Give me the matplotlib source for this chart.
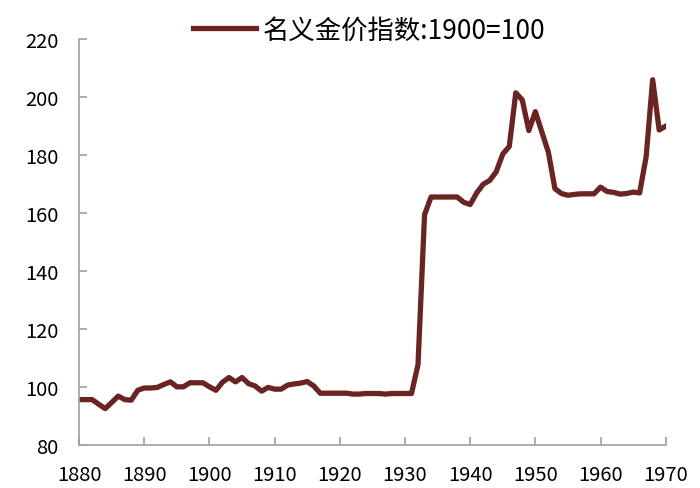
import numpy as np
import matplotlib.pyplot as plt

plt.rcParams['font.family'] = ['Noto Sans CJK SC', 'DejaVu Sans']

years = list(range(1880, 1971))
gold_index = [
    95.8, 95.8, 95.8, 94.2, 92.7, 94.8, 97.0, 95.8, 95.6, 99.0,  # 1880s
    99.8, 99.8, 100.0, 101.0, 101.9, 100.2, 100.2, 101.6, 101.6, 101.6,  # 1890s
    100.2, 99.0, 101.8, 103.4, 101.9, 103.4, 101.3, 100.5, 98.7, 100.0,  # 1900s
    99.4, 99.4, 100.8, 101.2, 101.5, 102.0, 100.5, 98.0, 98.0, 98.0,  # 1910s
    98.0, 98.0, 97.7, 97.7, 97.9, 97.9, 97.9, 97.7, 97.9, 97.9,  # 1920s
    97.9, 97.9, 107.9, 159.5, 165.6, 165.6, 165.6, 165.6, 165.6, 163.8,  # 1930s
    163.0, 167.0, 170.0, 171.3, 174.3, 180.4, 183.0, 201.5, 199.0, 188.5,  # 1940s
    195.0, 188.0, 181.0, 168.5, 166.8, 166.2, 166.5, 166.7, 166.7, 166.7,  # 1950s
    169.0, 167.5, 167.2, 166.6, 166.8, 167.3, 167.0, 179.5, 206.0, 188.7,  # 1960s
    190.0,  # 1970
]

fig = plt.figure(figsize=(7, 4.89), dpi=100)
ax = fig.add_axes([0.113, 0.087, 0.838, 0.831])

line, = ax.plot(years, gold_index, color='#6b2424', lw=3.8,
                solid_joinstyle='round', label='名义金价指数:1900=100')

ax.set_xlim(1880, 1970)
ax.set_ylim(80, 220)
ax.set_xticks(range(1880, 1971, 10))
ax.set_yticks(range(80, 221, 20))

for s in ['top', 'right']:
    ax.spines[s].set_visible(False)
for s in ['left', 'bottom']:
    ax.spines[s].set_color('#a0a0a0')
    ax.spines[s].set_linewidth(1.2)
ax.tick_params(direction='in', length=6, width=1.2, color='#a0a0a0',
               labelsize=14.5)
ax.tick_params(axis='x', pad=13)
ax.tick_params(axis='y', pad=15)

fig.legend(handles=[line], loc='upper center', bbox_to_anchor=(0.527, 1.013),
           frameon=False, fontsize=19, handlelength=2.4, handletextpad=0.25)

plt.savefig('out.png')
